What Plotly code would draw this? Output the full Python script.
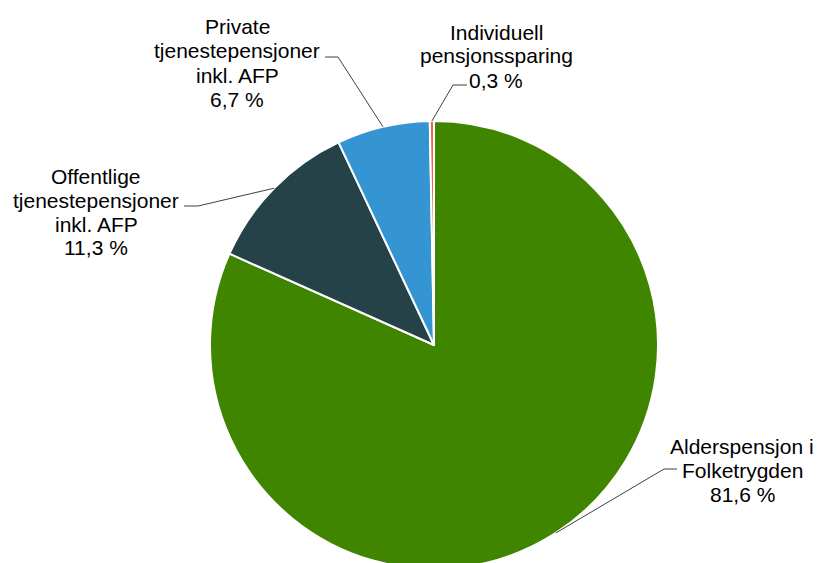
import math
import plotly.graph_objects as go

# ---- data ----
categories = ["Alderspensjon i Folketrygden",
              "Offentlige tjenestepensjoner inkl. AFP",
              "Private tjenestepensjoner inkl. AFP",
              "Individuell pensjonssparing"]
values = [81.6, 11.3, 6.7, 0.3]
label_lines = [["Alderspensjon i", "Folketrygden"],
               ["Offentlige", "tjenestepensjoner", "inkl. AFP"],
               ["Private", "tjenestepensjoner", "inkl. AFP"],
               ["Individuell", "pensjonssparing"]]

# ---- style / layout ----
colors = ["#3F8500", "#264249", "#3595D3", "#E8674A"]
W, H = 817, 571                     # page window is 563 high; pie bottom runs slightly past it
cx, cy, R = 434, 345, 224           # pie centre and radius in pixels
LINE_H = 24                          # label line spacing in px
FONT_SIZE = 21
# label text block centre (px), elbow point (px), horizontal end (px)
label_pos = [(742, 470), (96, 212), (237, 63), (496, 56)]
elbows = [((664, 469), (677, 469)),
          ((198, 206), (184, 206)),
          ((338, 57), (325, 57)),
          ((453, 85), (467, 85))]

def px(x, y):
    return x / W, 1 - y / H

fig = go.Figure(go.Pie(
    labels=categories, values=values, sort=False,
    direction="clockwise", rotation=0,
    marker=dict(colors=colors, line=dict(color="white", width=2)),
    textinfo="none", hoverinfo="label+percent",
    domain=dict(x=[(cx - R) / W, (cx + R) / W],
                y=[(H - cy - R) / H, (H - cy + R) / H]),
    showlegend=False,
))

total = sum(values)
cum = 0.0
annotations, shapes = [], []
for i, v in enumerate(values):
    mid = (cum + v / 2) / total * 2 * math.pi   # clockwise from 12 o'clock
    cum += v
    sx = cx + R * math.sin(mid)
    sy = cy - R * math.cos(mid)
    (ex, ey), (hx, hy) = elbows[i]
    p0, p1, p2 = px(sx, sy), px(ex, ey), px(hx, hy)
    shapes.append(dict(type="path", xref="paper", yref="paper",
                       path=f"M {p0[0]} {p0[1]} L {p1[0]} {p1[1]} L {p2[0]} {p2[1]}",
                       line=dict(color="#404040", width=1)))
    pct = f"{v:.1f}".replace(".", ",") + " %"
    lines = label_lines[i] + [pct]
    bx, by = label_pos[i]
    n = len(lines)
    for k, line in enumerate(lines):
        ly_px = by + (k - (n - 1) / 2) * LINE_H
        lx, ly = px(bx, ly_px)
        annotations.append(dict(x=lx, y=ly, xref="paper", yref="paper", text=line,
                                showarrow=False, xanchor="center", yanchor="middle",
                                align="center",
                                font=dict(family="Liberation Sans, Arial",
                                          size=FONT_SIZE, color="#000000")))

fig.update_layout(width=W, height=H, margin=dict(l=0, r=0, t=0, b=0),
                  paper_bgcolor="white", plot_bgcolor="white",
                  annotations=annotations, shapes=shapes)

fig.write_html("out.html",
               config={"displayModeBar": False},
               post_script="document.body.style.margin='0';"
                           "document.body.style.overflow='hidden';"
                           "document.documentElement.style.overflow='hidden';")
